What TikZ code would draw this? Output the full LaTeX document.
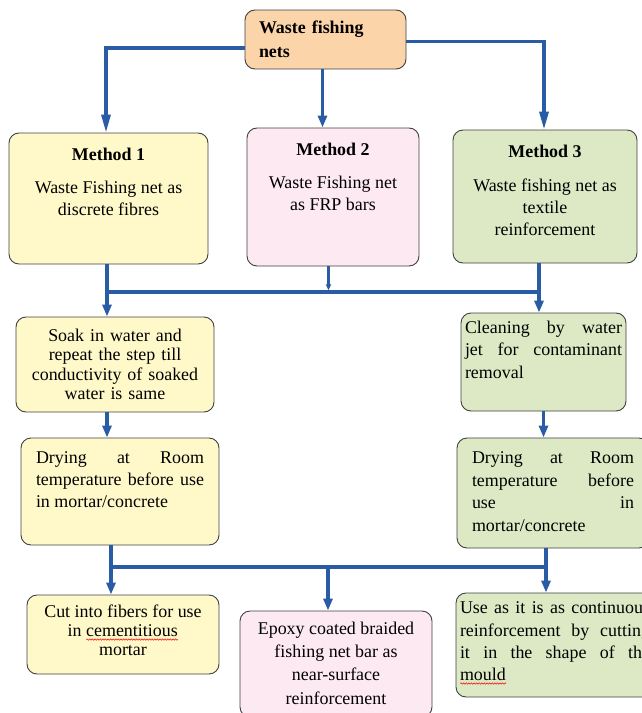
\documentclass[tikz,border=0pt]{standalone}
\usepackage{fontspec}
\setmainfont{Liberation Serif}
\usetikzlibrary{arrows.meta,decorations.pathmorphing}

\definecolor{peach}{RGB}{251,212,170}
\definecolor{paleyellow}{RGB}{255,249,202}
\definecolor{palepink}{RGB}{253,233,241}
\definecolor{palegreen}{RGB}{221,233,197}
\definecolor{flowblue}{RGB}{42,92,166}
\definecolor{edgegray}{RGB}{64,64,64}

\newlength{\spellwd}
\newcommand{\topbox}[3]{\parbox[c][#1][t]{#2}{#3}}
\newcommand{\spellmark}[1]{\settowidth{\spellwd}{#1}\leavevmode\rlap{#1}\tikz[baseline={(0,3bp)}]\draw[red, line width=0.5bp, rounded corners=0pt, decorate, decoration={snake, amplitude=0.7bp, segment length=2.6bp}] (0,0) -- (\spellwd,0);}

\tikzset{
  box/.style={draw=edgegray, line width=0.9bp, rounded corners=10bp, inner sep=0pt, font=\fontsize{18}{22}\selectfont},
  flow/.style={draw=flowblue, line width=3.2bp},
  longhead/.style={-{Triangle[length=18bp,width=9bp]}},
  shorthead/.style={-{Triangle[length=12bp,width=9bp]}},
  tinyhead/.style={-{Triangle[length=6bp,width=5bp]}}
}

\begin{document}
\begin{tikzpicture}
\useasboundingbox (0,0) rectangle (642bp,-713bp);
\clip (0,0) rectangle (642bp,-713bp);

% source
\node (nets) at (325.5bp,-39.5bp)[box, fill=peach, minimum width=161bp, minimum height=59bp, text width=133bp, align=left, font=\bfseries\fontsize{18}{24}\selectfont] {Waste fishing\\nets};

% methods
\node (m1) at (108.5bp,-198.5bp)[box, fill=paleyellow, minimum width=199bp, minimum height=131bp] {\topbox{101bp}{185bp}{\centering\textbf{Method 1}\\[11bp] Waste Fishing net as\\ discrete fibres}};
\node (m2) at (333bp,-197bp)[box, fill=palepink, minimum width=172bp, minimum height=138bp] {\topbox{108bp}{165bp}{\centering\textbf{Method 2}\\[11bp] Waste Fishing net\\ as FRP bars}};
\node (m3) at (545bp,-196.5bp)[box, fill=palegreen, minimum width=184bp, minimum height=133bp] {\topbox{103bp}{175bp}{\centering\textbf{Method 3}\\[12bp] Waste fishing net as\\ textile\\ reinforcement}};

% treatment
\node (soak) at (115bp,-364.5bp)[box, fill=paleyellow, minimum width=198bp, minimum height=95bp, text width=190bp, align=center, font=\fontsize{18}{19.5}\selectfont] {Soak in water and\\ repeat the step till\\ conductivity of soaked\\ water is same};
\node (clean) at (543.5bp,-362bp)[box, fill=palegreen, minimum width=165bp, minimum height=98bp] {\topbox{82bp}{157bp}{\fontsize{18}{22.5}\selectfont Cleaning by water\linebreak jet for contaminant\linebreak removal}};
\node (dryl) at (120bp,-491.5bp)[box, fill=paleyellow, minimum width=198bp, minimum height=107bp] {\topbox{80bp}{168bp}{Drying at Room\linebreak temperature before use\linebreak in mortar/concrete}};
\node (dryr) at (553bp,-493bp)[box, fill=palegreen, minimum width=192bp, minimum height=110bp] {\topbox{82bp}{162bp}{\fontsize{18}{22.5}\selectfont Drying at Room\linebreak temperature before\linebreak use in\linebreak mortar/concrete}};

% use
\node (cut) at (123bp,-634.5bp)[box, fill=paleyellow, minimum width=192bp, minimum height=79bp] {\topbox{59bp}{180bp}{\fontsize{18}{19}\selectfont\centering Cut into fibers for use\\ in \spellmark{cementitious}\\ mortar}};
\node (epoxy) at (336bp,-664bp)[box, fill=palepink, minimum width=192bp, minimum height=106bp] {\topbox{84bp}{180bp}{\fontsize{18}{23.3}\selectfont\centering Epoxy coated braided\\ fishing net bar as\\ near-surface\\ reinforcement}};
\node (use) at (555bp,-645bp)[box, fill=palegreen, minimum width=198bp, minimum height=104bp] {\topbox{86bp}{190bp}{\fontsize{18}{22.3}\selectfont Use as it is as continuous\linebreak reinforcement by cutting\linebreak it in the shape of the\linebreak \spellmark{mould}}};

% junctions
\coordinate (b1) at (107bp,-292bp);
\coordinate (b2) at (539bp,-292bp);
\coordinate (c1) at (111bp,-567bp);
\coordinate (c2) at (546bp,-567bp);
\coordinate (c3) at (328bp,-567bp);

% connectors
\draw[flow, longhead] ([yshift=-8.5bp]nets.west) -| ([xshift=-2.5bp]m1.north);
\draw[flow, longhead] ([yshift=-2bp]nets.east) -| ([xshift=-1bp]m3.north);
\draw[flow, shorthead] ([xshift=-3bp]nets.south) -- ([xshift=-3bp]nets.south |- m2.north);

\draw[flow] (b1) -- (b2);
\draw[flow, shorthead] (b1 |- m1.south) -- (b1 |- soak.north);
\draw[flow, shorthead] (b2 |- m3.south) -- (b2 |- clean.north);
\draw[flow, tinyhead, shorten >=1.6bp] ([xshift=-4.5bp]m2.south) -- ([xshift=-4.5bp]m2.south |- b1);
\draw[flow, shorthead] (b1 |- soak.south) -- (b1 |- dryl.north);
\draw[flow, shorthead] (clean.south) -- (clean.south |- dryr.north);

\draw[flow] (c1) -- (c2);
\draw[flow, shorthead] (c1 |- dryl.south) -- (c1 |- cut.north);
\draw[flow, shorthead] (c2 |- dryr.south) -- (c2 |- use.north);
\draw[flow, shorthead] (c3) -- (c3 |- epoxy.north);
\end{tikzpicture}
\end{document}
